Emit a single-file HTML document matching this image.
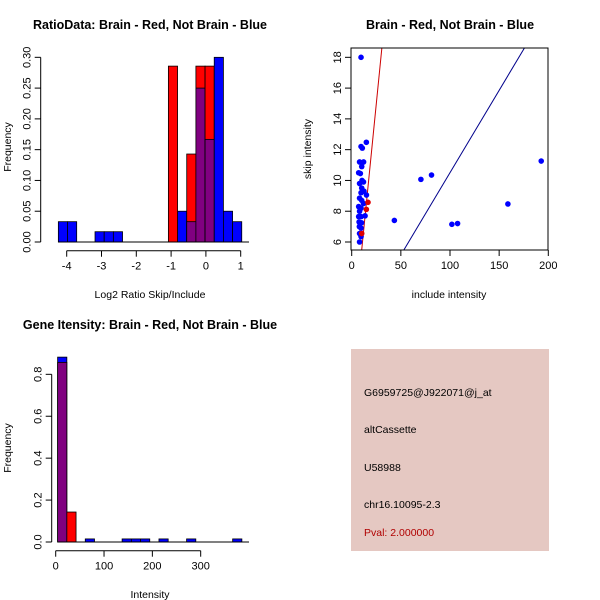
<!DOCTYPE html>
<html><head><meta charset="utf-8"><style>
body{margin:0;background:#fff}
svg{display:block;font-family:"Liberation Sans",sans-serif}
text{fill:#000}
.t{font-weight:bold;font-size:12.5px}
.tk{font-size:11px}
.lb{font-size:10.5px}
</style></head><body>
<svg id="c" width="600" height="600" viewBox="0 0 600 600">
<rect width="600" height="600" fill="#fff"/>
<text class="t" x="150" y="29" text-anchor="middle">RatioData: Brain - Red, Not Brain - Blue</text>
<text class="t" x="450" y="29" text-anchor="middle">Brain - Red, Not Brain - Blue</text>
<text class="t" x="150" y="329" text-anchor="middle">Gene Itensity: Brain - Red, Not Brain - Blue</text>
<g id="p1"></g>
<g id="p2"></g>
<g id="p3"></g>
<g>
<rect x="351" y="349" width="198" height="202" fill="#E5C8C2"/>
<text class="lb" x="364" y="396">G6959725@J922071@j_at</text>
<text class="lb" x="364" y="433">altCassette</text>
<text class="lb" x="364" y="471">U58988</text>
<text class="lb" x="364" y="508">chr16.10095-2.3</text>
<text class="lb" x="364" y="536" style="fill:#B00000">Pval: 2.000000</text>
</g>
</svg>
<script>
// ---- Plot 1 data ----
const ratioOrigin=-4.24, ratioWidth=0.2635;
const ratioBlueBins=[0,1,4,5,6,13,14,15,16,17,18,19];
const ratioBlueVals=[0.033,0.033,0.0167,0.0167,0.0167,0.05,0.033,0.25,0.1667,0.30,0.05,0.033];
const ratioRedBins=[12,14,15,16];
const ratioRedVals=[0.2857,0.1429,0.2857,0.2857];
const ratioXTicks=[-4,-3,-2,-1,0,1];
const ratioYTicks=[0,0.05,0.10,0.15,0.20,0.25,0.30];
const ratioYLabels=["0.00","0.05","0.10","0.15","0.20","0.25","0.30"];
// ---- Plot 2 data ----
const blueX=[9.5,14.9,9.5,10.8,8.0,12.1,10.2,7.1,8.8,10.5,12,8,10.2,12.5,15,9.5,8,10.2,12,7.1,9.5,8,7.1,9.5,13.6,7.5,10,7.8,9.5,8,9.5,8,43.4,70.4,81.2,101.9,107.7,158.9,192.8];
const blueY=[18.0,12.48,12.2,12.1,11.2,11.2,10.9,10.5,10.45,10.0,9.9,9.8,9.5,9.3,9.05,9.2,8.85,8.7,8.5,8.3,8.2,8.0,7.65,7.65,7.7,7.3,7.25,7.0,6.9,6.55,6.35,6.0,7.4,10.07,10.35,7.15,7.2,8.47,11.26];
const redX=[16.6,14.9,10.2];
const redY=[8.58,8.12,6.55];
const lineRed=[-1.03,0.64];   // intercept, slope
const lineBlue=[-0.196,0.107];
const scXTicks=[0,50,100,150,200];
const scYTicks=[6,8,10,12,14,16,18];
// ---- Plot 3 data ----
const intOrigin=4, intWidth=19.06;
const intBlueBins=[0,3,7,8,9,11,14,19];
const intBlueVals=[0.882,0.0147,0.0147,0.0147,0.0147,0.0147,0.0147,0.0147];
const intRedBins=[0,1];
const intRedVals=[0.857,0.143];
const intXTicks=[0,100,200,300];
const intYTicks=[0,0.2,0.4,0.6,0.8];
const intYLabels=["0.0","0.2","0.4","0.6","0.8"];

const NS="http://www.w3.org/2000/svg";
function mk(p,tag,a){const e=document.createElementNS(NS,tag);for(const k in a)e.setAttribute(k,a[k]);p.appendChild(e);return e;}
const BLUE="#0000FF",RED="#FF0000",PURP="#800080";

function hist(g,origin,width,bB,bV,rB,rV,X,Y){
  const all=new Set([...bB,...rB]);
  all.forEach(k=>{
    const bi=bB.indexOf(k),ri=rB.indexOf(k);
    const b=bi>=0?bV[bi]:0,r=ri>=0?rV[ri]:0;
    const x0=X(origin+k*width),x1=X(origin+(k+1)*width);
    const hi=Math.max(b,r),lo=Math.min(b,r);
    let e=mk(g,'rect',{x:x0,y:Y(hi),width:x1-x0,height:Y(0)-Y(hi),fill:b>=r?BLUE:RED,stroke:'#000','stroke-width':0.8});
    
    
    if(lo>0){e=mk(g,'rect',{x:x0,y:Y(lo),width:x1-x0,height:Y(0)-Y(lo),fill:PURP,stroke:'#000','stroke-width':0.8});
      
      }
  });
}
function xaxis(g,ticks,labels,X,y){
  mk(g,'line',{x1:X(ticks[0]),x2:X(ticks[ticks.length-1]),y1:y,y2:y,stroke:'#000'});
  ticks.forEach((t,i)=>{mk(g,'line',{x1:X(t),x2:X(t),y1:y,y2:y+6,stroke:'#000'});
    const e=mk(g,'text',{x:X(t),y:y+19,'text-anchor':'middle',class:'tk'});e.textContent=labels[i];
    
    });
}
function yaxis(g,ticks,labels,Y,x){
  mk(g,'line',{x1:x,x2:x,y1:Y(ticks[0]),y2:Y(ticks[ticks.length-1]),stroke:'#000'});
  ticks.forEach((t,i)=>{mk(g,'line',{x1:x-6,x2:x,y1:Y(t),y2:Y(t),stroke:'#000'});
    const e=mk(g,'text',{x:x-10,y:Y(t),'text-anchor':'middle',class:'tk',transform:`rotate(-90 ${x-10} ${Y(t)})`});e.textContent=labels[i];
    
    });
}
function label(g,txt,x,y,rot,name){
  const e=mk(g,'text',{x:x,y:y,'text-anchor':'middle',class:'lb'});
  if(rot)e.setAttribute('transform',`rotate(-90 ${x} ${y})`);
  e.textContent=txt;
  
  
}
// Plot 1
(function(){
  const g=document.getElementById('p1');
  const X=v=>66.7+(v+4)*34.8, Y=v=>242-v*615.6;
  hist(g,ratioOrigin,ratioWidth,ratioBlueBins,ratioBlueVals,ratioRedBins,ratioRedVals,X,Y);
  mk(g,'line',{x1:58,x2:249,y1:242,y2:242,stroke:'#000'});
  xaxis(g,ratioXTicks,ratioXTicks.map(String),X,250.7);
  yaxis(g,ratioYTicks,ratioYLabels,Y,40.7);
  label(g,'Log2 Ratio Skip/Include',150,298,false,'x-axis-title');
  label(g,'Frequency',11,147,true,'y-axis-title');
})();
// Plot 2
(function(){
  const g=document.getElementById('p2');
  const X=v=>351.7+v*0.983, Y=v=>242-(v-6)*15.39;
  const cp=mk(g,'clipPath',{id:'cp2'});mk(cp,'rect',{x:351,y:48,width:197,height:202});
  const lg=mk(g,'g',{'clip-path':'url(#cp2)'});
  [[lineRed,'#CC0000'],[lineBlue,'#00008B']].forEach(([l,c])=>{
    const e=mk(lg,'line',{x1:X(-10),y1:Y(l[0]+l[1]*-10),x2:X(210),y2:Y(l[0]+l[1]*210),stroke:c,'stroke-width':1});
    
    
  });
  blueX.forEach((x,i)=>{const e=mk(g,'circle',{cx:X(x),cy:Y(blueY[i]),r:2.8,fill:BLUE});
    
    });
  redX.forEach((x,i)=>{const e=mk(g,'circle',{cx:X(x),cy:Y(redY[i]),r:2.8,fill:'#E00000'});
    
    });
  mk(g,'rect',{x:351,y:48,width:197,height:202,fill:'none',stroke:'#000'});
  xaxis(g,scXTicks,scXTicks.map(String),X,250);
  yaxis(g,scYTicks,scYTicks.map(String),Y,351);
  label(g,'include intensity',449,298,false,'x-axis-title');
  label(g,'skip intensity',311,149,true,'y-axis-title');
})();
// Plot 3
(function(){
  const g=document.getElementById('p3');
  const X=v=>55.7+v*0.4833, Y=v=>542-v*209.6;
  hist(g,intOrigin,intWidth,intBlueBins,intBlueVals,intRedBins,intRedVals,X,Y);
  mk(g,'line',{x1:58,x2:249,y1:542,y2:542,stroke:'#000'});
  xaxis(g,intXTicks,intXTicks.map(String),X,550.7);
  yaxis(g,intYTicks,intYLabels,Y,51.7);
  label(g,'Intensity',150,598,false,'x-axis-title');
  label(g,'Frequency',11,448,true,'y-axis-title');
})();
</script>
</body></html>
